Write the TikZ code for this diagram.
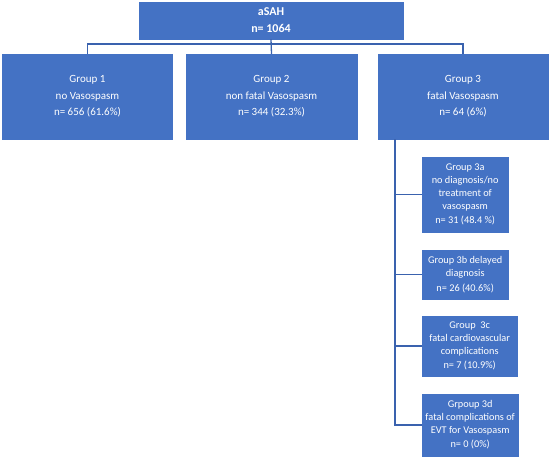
\documentclass[tikz,border=0pt]{standalone}
\usepackage{fontspec}
\setmainfont{Carlito}
\usepackage{xcolor}
\usepackage{tikz}
\usetikzlibrary{positioning, calc}
\definecolor{Box}{HTML}{4472C4}
\definecolor{Wire}{HTML}{3A62AE}

\begin{document}
\begin{tikzpicture}[
  x=1pt, y=-1pt,
  block/.style={fill=Box, draw=Box, text=white, align=center, inner sep=0pt},
  head/.style={block, minimum width=264pt, minimum height=37pt, font=\fontsize{12}{17}\selectfont\bfseries},
  group/.style={block, minimum width=170pt, minimum height=85pt, font=\fontsize{11}{16.5}\selectfont},
  sub/.style={block, anchor=west, minimum height=#1, font=\fontsize{10.3}{12.8}\selectfont},
  link/.style={draw=Wire, line width=1.3pt}
]
\useasboundingbox (0,0) rectangle (550,457);
\node[head] (asah) at (271,20.5) {aSAH\\n= 1064};
\node[group] (g1) at (87.5,96.5) {Group 1\\no Vasospasm\\n= 656 (61.6\%)};
\node[group, minimum width=171pt] (g2) at (271.5,96.5) {Group 2\\non fatal Vasospasm\\n= 344 (32.3\%)};
\node[group] (g3) at (463,96.5) {Group 3\\fatal Vasospasm\\n= 64 (6\%)};
\node[sub=75pt, minimum width=86pt] (g3a) at (422,194.5) {Group 3a\\no diagnosis/no\\treatment of\\vasospasm\\[1.5pt]n= 31 (48.4 \%)};
\node[sub=49pt, minimum width=86pt] (g3b) at (422,274.5) {Group 3b delayed\\diagnosis\\[2pt]n= 26 (40.6\%)};
\node[sub=60pt, minimum width=95pt] (g3c) at (422,346) {Group~~3c\\fatal cardiovascular\\complications\\[1.5pt]n= 7 (10.9\%)};
\node[sub=62pt, minimum width=96pt] (g3d) at (422,425) {Grpoup 3d\\fatal complications of\\EVT for Vasospasm\\[1.5pt]n= 0 (0\%)};

\coordinate (bus) at (0,44);
\coordinate (spine) at (395,0);

\draw[link] (asah.south) -- (g2.north);
\draw[link] (g1.north) -- (g1.north |- bus) -- (g3.north |- bus) -- (g3.north);
\draw[link] (g3.south -| spine) -- (spine |- g3d.west) -- (g3d.west);
\draw[link] (spine |- g3a.west) -- (g3a.west);
\draw[link] (spine |- g3b.west) -- (g3b.west);
\draw[link] (spine |- g3c.west) -- (g3c.west);
\end{tikzpicture}
\end{document}
